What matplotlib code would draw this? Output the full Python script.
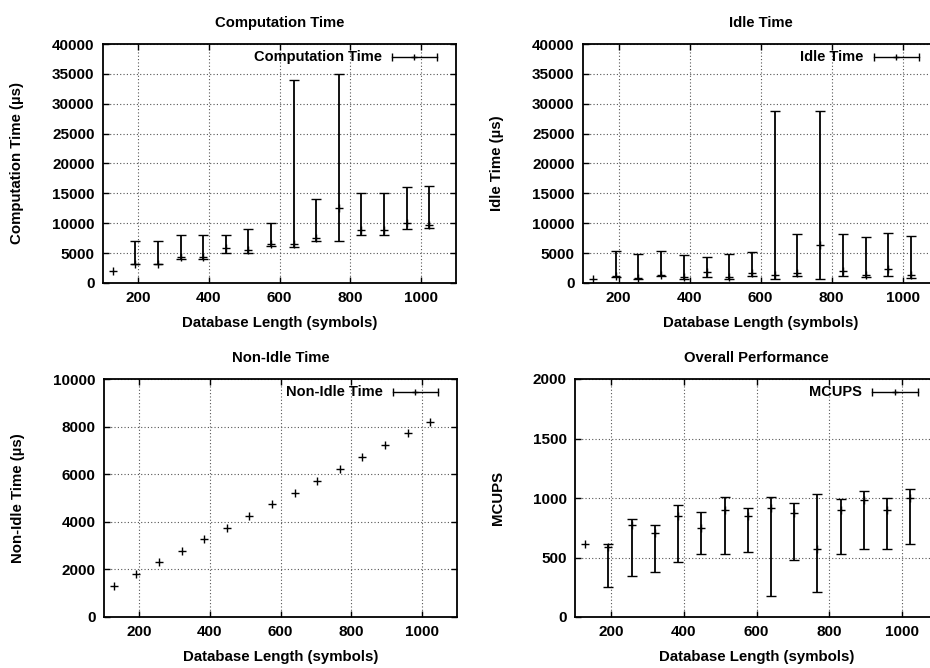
import numpy as np
import matplotlib
matplotlib.use('Agg')
import matplotlib.pyplot as plt

plt.rcParams['font.family'] = ['Liberation Sans', 'DejaVu Sans']
plt.rcParams['font.weight'] = 'bold'

# database length (symbols)
db_len = [128, 192, 256, 320, 384, 448, 512, 576, 640, 704, 768, 832, 896, 960, 1024]

# computation time (us): mean, min, max
comp_mean = [2000, 3200, 3200, 4300, 4400, 5800, 5500, 6500, 6600, 7500, 12600, 8800, 8800, 10000, 9700]
comp_min = [2000, 3100, 3100, 4000, 4000, 5000, 5000, 6200, 6000, 7000, 7000, 8000, 8000, 9100, 9200]
comp_max = [2000, 7100, 7100, 8000, 8000, 8000, 9100, 10000, 34000, 14000, 35000, 15000, 15000, 16000, 16200]

# idle time (us)
idle_mean = [700, 1200, 800, 1400, 1000, 1800, 1000, 1700, 1300, 1700, 6400, 2000, 1300, 2400, 1300]
idle_min = [700, 1000, 700, 1200, 700, 1000, 700, 1200, 700, 1200, 700, 1200, 1000, 1200, 900]
idle_max = [700, 5400, 4900, 5300, 4700, 4300, 4800, 5200, 28800, 8200, 28800, 8200, 7700, 8300, 7800]

# non-idle time (us)
nonidle_mean = [1300, 1800, 2300, 2780, 3270, 3750, 4250, 4750, 5230, 5720, 6230, 6720, 7220, 7720, 8200]

# MCUPS
mcups_mean = [615, 587, 775, 705, 845, 750, 895, 845, 912, 878, 573, 895, 979, 903, 1004]
mcups_min = [615, 252, 344, 378, 459, 531, 531, 543, 179, 478, 207, 529, 568, 568, 610]
mcups_max = [615, 615, 825, 769, 945, 881, 1007, 915, 1010, 954, 1032, 990, 1063, 1004, 1074]

W, H = 930, 668
fig = plt.figure(figsize=(W / 100, H / 100), dpi=100)

def make_ax(l, r, t, b):
    return fig.add_axes([l / W, 1 - b / H, (r - l) / W, (b - t) / H])

def style(ax, title, ylabel, ylim, yticks):
    ax.set_xlim(100, 1100)
    ax.set_ylim(*ylim)
    ax.set_xticks([200, 400, 600, 800, 1000])
    ax.set_yticks(yticks)
    ax.grid(True, linestyle=(0, (1, 2)), color='#555555', linewidth=0.8)
    ax.tick_params(direction='in', top=True, right=True, labelsize=11, length=4, width=1, pad=6)
    for s in ax.spines.values():
        s.set_linewidth(1.3)
    ax.set_title(title, fontsize=10.7, fontweight='bold', pad=12)
    ax.set_xlabel('Database Length (symbols)', fontsize=10.8, fontweight='bold', labelpad=8)
    ax.set_ylabel(ylabel, fontsize=10.8, fontweight='bold', labelpad=20)

def legend_sample(ax, label):
    y = 0.946
    ax.plot([0.819, 0.946], [y, y], transform=ax.transAxes, color='black', lw=1)
    ax.plot([0.819, 0.946], [y, y], transform=ax.transAxes, color='black', lw=0,
            marker='|', markersize=6, mew=1)
    ax.plot([0.882], [y], transform=ax.transAxes, color='black', marker='+',
            markersize=5, mew=1)
    ax.text(0.79, y, label, transform=ax.transAxes, ha='right', va='center',
            fontsize=10.5, fontweight='bold')

def errbars(ax, mean, lo, hi):
    x = np.array(db_len)
    m = np.array(mean)
    lo = np.array(lo)
    hi = np.array(hi)
    bar = hi > lo
    # points without spread: only the '+' marker
    ax.plot(x[~bar], m[~bar], '+', color='black', markersize=6, mew=1)
    err = [m[bar] - lo[bar], hi[bar] - m[bar]]
    ax.errorbar(x[bar], m[bar], yerr=err, fmt='+', color='black', ecolor='black',
                elinewidth=1.3, capsize=3.5, capthick=1.1, markersize=6, mew=1)

ax1 = make_ax(103, 456, 44, 283)
errbars(ax1, comp_mean, comp_min, comp_max)
style(ax1, 'Computation Time', 'Computation Time (µs)', (0, 40000), range(0, 40001, 5000))
legend_sample(ax1, 'Computation Time')

ax2 = make_ax(583, 938, 44, 283)
errbars(ax2, idle_mean, idle_min, idle_max)
style(ax2, 'Idle Time', 'Idle Time (µs)', (0, 40000), range(0, 40001, 5000))
legend_sample(ax2, 'Idle Time')

ax3 = make_ax(104, 457, 379, 617)
ax3.plot(db_len, nonidle_mean, '+', color='black', markersize=6, mew=1)
style(ax3, 'Non-Idle Time', 'Non-Idle Time (µs)', (0, 10000), range(0, 10001, 2000))
legend_sample(ax3, 'Non-Idle Time')

ax4 = make_ax(575, 938, 379, 617)
errbars(ax4, mcups_mean, mcups_min, mcups_max)
style(ax4, 'Overall Performance', 'MCUPS', (0, 2000), range(0, 2001, 500))
legend_sample(ax4, 'MCUPS')

fig.savefig('out.png', dpi=100)
